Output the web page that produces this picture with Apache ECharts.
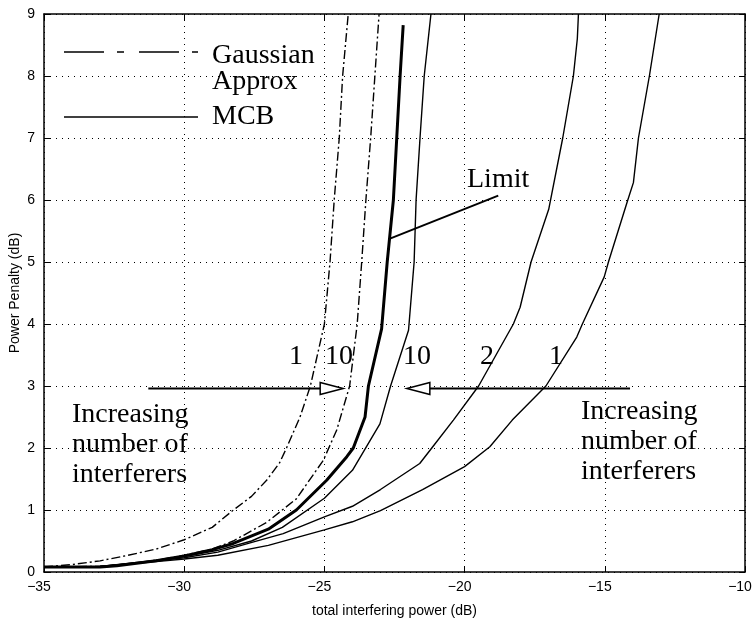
<!DOCTYPE html>
<html>
<head>
<meta charset="utf-8">
<script src="https://cdn.jsdelivr.net/npm/echarts@6/dist/echarts.min.js"></script>
<style>
  html, body { margin: 0; padding: 0; background: #fff; }
  #chart { width: 756px; height: 619px; }
</style>
</head>
<body>
<div id="chart"></div>
<script>
// Power penalty vs. total interfering power, [dB, dB] pairs
const gauss1 = [[-35,0.08],[-34,0.12],[-33,0.18],[-32,0.27],[-31,0.37],[-30,0.52],[-29,0.72],[-28.3,0.98],[-27.6,1.22],[-27.06,1.48],[-26.6,1.76],[-26.35,2.0],[-25.87,2.5],[-25.5,3.0],[-25.0,4.0],[-24.8,5.0],[-24.65,6.0],[-24.47,7.0],[-24.35,8.0],[-24.15,9.0]];
const gauss10 = [[-35,0.08],[-33,0.09],[-32,0.13],[-31,0.19],[-30,0.27],[-29,0.37],[-28.25,0.5],[-27.06,0.8],[-26,1.18],[-25.04,1.8],[-24.56,2.29],[-24.1,3.0],[-23.83,4.0],[-23.67,5.0],[-23.52,6.0],[-23.35,7.0],[-23.2,8.0],[-23.05,9.0]];
const limitCurve = [[-35,0.08],[-33,0.08],[-32.4,0.1],[-31,0.18],[-30,0.26],[-29,0.36],[-28.25,0.46],[-27,0.69],[-26,1.0],[-24.92,1.48],[-24.2,1.86],[-23.97,2.0],[-23.55,2.5],[-23.43,3.0],[-22.96,3.92],[-22.76,5.0],[-22.54,6.0],[-22.42,7.0],[-22.3,8.0],[-22.19,8.82]];
const mcb10 = [[-35,0.08],[-33,0.09],[-31.2,0.18],[-30,0.25],[-28.8,0.35],[-27.6,0.5],[-26.5,0.72],[-25,1.19],[-24,1.64],[-23.02,2.39],[-22.64,3.0],[-22.0,3.9],[-21.8,5.0],[-21.73,6.0],[-21.59,7.0],[-21.44,8.0],[-21.2,9.0]];
const mcb2 = [[-35,0.08],[-33,0.09],[-31.2,0.17],[-30,0.23],[-28.8,0.32],[-27.65,0.47],[-26.47,0.62],[-25,0.89],[-24,1.06],[-23,1.33],[-21.6,1.75],[-21.17,2.0],[-20.4,2.45],[-19.5,3.0],[-18.26,4.0],[-18.02,4.27],[-17.63,5.0],[-17.0,5.85],[-16.5,7.0],[-16.12,8.0],[-15.98,8.6],[-15.94,9.0]];
const mcb1 = [[-35,0.08],[-33,0.09],[-31.2,0.16],[-30,0.21],[-28.8,0.27],[-27,0.43],[-25,0.68],[-24,0.81],[-23,0.99],[-21.5,1.33],[-20,1.70],[-19.1,2.02],[-18.3,2.45],[-17.1,3.0],[-16,3.79],[-15.8,4.0],[-15.02,4.76],[-14.87,5.0],[-14.18,6.0],[-13.98,6.28],[-13.8,7.0],[-13.41,8.0],[-13.06,9.0]];

// Annotation arrows at the 3 dB level: [tail x, tip x, y]
const arrows = [[-31.28,-24.33,2.96],[-14.1,-22.06,2.96]];
// Leader line from the "Limit" label to the limit curve
const limitPointer = [[-22.64,5.38],[-18.8,6.07]];

const X_MIN = -35, X_MAX = -10, X_STEP = 5;
const Y_MIN = 0, Y_MAX = 9, Y_STEP = 1;

const SANS = '"Liberation Sans", Arial, Helvetica, sans-serif';
const SERIF = '"Liberation Serif", "Times New Roman", serif';
const INK = '#000';

const chart = echarts.init(document.getElementById('chart'), null, { renderer: 'canvas' });

const minusFmt = v => String(v).replace('-', '\u2212');
const gridLine = { show: true, lineStyle: { color: INK, width: 1, type: [1, 5] } };
const tickIn = { show: true, inside: true, length: 6, lineStyle: { color: INK, width: 1 } };
const boxLine = { show: true, onZero: false, lineStyle: { color: INK, width: 1.5 } };

function curve(name, data, width, dashed) {
  return {
    name, type: 'line', data, showSymbol: false, symbol: 'none', smooth: false,
    clip: true, animation: false, silent: true,
    lineStyle: { color: INK, width, type: dashed ? [9, 3, 2, 3] : 'solid' },
    z: 3
  };
}

function renderArrow(params, api) {
  const p0 = api.coord([api.value(0), api.value(2)]);
  const p1 = api.coord([api.value(1), api.value(2)]);
  const dir = Math.sign(p1[0] - p0[0]);
  const headLen = 23, headHalf = 6;
  const bx = p1[0] - dir * headLen;
  return {
    type: 'group',
    children: [
      { type: 'line', shape: { x1: p0[0], y1: p0[1], x2: bx, y2: p1[1] }, style: { stroke: INK, lineWidth: 2 } },
      { type: 'polygon', shape: { points: [[bx, p1[1] - headHalf], [p1[0], p1[1]], [bx, p1[1] + headHalf]] },
        style: { fill: '#fff', stroke: INK, lineWidth: 1.5 } }
    ]
  };
}

const serifText = (text, x, y, align) => ({
  type: 'text', x, y, silent: true, z: 10,
  style: { text, fill: INK, font: '28px ' + SERIF, textAlign: align || 'left', textVerticalAlign: 'middle', lineHeight: 30 }
});

chart.setOption({
  animation: false,
  backgroundColor: '#fff',
  grid: { left: 44, right: 11, top: 14, bottom: 47, containLabel: false, outerBoundsMode: 'none' },
  xAxis: [
    {
      type: 'value', min: X_MIN, max: X_MAX, interval: X_STEP, position: 'bottom',
      name: 'total interfering power (dB)', nameLocation: 'middle', nameGap: 32, nameMoveOverlap: false,
      nameTextStyle: { color: INK, fontFamily: SANS, fontSize: 14 },
      axisLine: boxLine, axisTick: tickIn, splitLine: gridLine,
      // digits sit centred on the tick, the minus sign hangs to the left
      axisLabel: { color: INK, fontFamily: SANS, fontSize: 14, margin: 8, padding: [0, 10, 0, 0], formatter: minusFmt }
    },
    {
      type: 'value', min: X_MIN, max: X_MAX, interval: X_STEP, position: 'top',
      axisLine: boxLine, axisTick: tickIn, splitLine: { show: false }, axisLabel: { show: false }
    }
  ],
  yAxis: [
    {
      type: 'value', min: Y_MIN, max: Y_MAX, interval: Y_STEP, position: 'left',
      name: 'Power Penalty (dB)', nameLocation: 'middle', nameGap: 22, nameRotate: 90, nameMoveOverlap: false,
      nameTextStyle: { color: INK, fontFamily: SANS, fontSize: 14 },
      axisLine: boxLine, axisTick: tickIn, splitLine: gridLine,
      axisLabel: { color: INK, fontFamily: SANS, fontSize: 14, margin: 9 }
    },
    {
      type: 'value', min: Y_MIN, max: Y_MAX, interval: Y_STEP, position: 'right',
      axisLine: boxLine, axisTick: tickIn, splitLine: { show: false }, axisLabel: { show: false }
    }
  ],
  series: [
    curve('Gaussian 1', gauss1, 1.4, true),
    curve('Gaussian 10', gauss10, 1.4, true),
    curve('Limit', limitCurve, 3, false),
    curve('MCB 10', mcb10, 1.4, false),
    curve('MCB 2', mcb2, 1.4, false),
    curve('MCB 1', mcb1, 1.4, false),
    {
      name: 'Limit pointer', type: 'line', data: limitPointer, symbol: 'none', silent: true,
      lineStyle: { color: INK, width: 2 }, z: 4
    },
    {
      name: 'Arrows', type: 'custom', data: arrows, renderItem: renderArrow, silent: true, z: 5,
      encode: { x: [0, 1], y: 2 }
    }
  ],
  graphic: [
    // legend
    { type: 'line', shape: { x1: 64, y1: 52, x2: 198, y2: 52 }, silent: true,
      style: { stroke: INK, lineWidth: 1.4, lineDash: [40, 13, 7, 15] } },
    { type: 'line', shape: { x1: 64, y1: 117, x2: 198, y2: 117 }, silent: true,
      style: { stroke: INK, lineWidth: 1.4 } },
    serifText('Gaussian', 212, 56),
    serifText('Approx', 212, 82),
    serifText('MCB', 212, 117),
    // curve annotations
    serifText('Limit', 467, 180),
    serifText('1', 296, 357, 'center'),
    serifText('10', 339, 357, 'center'),
    serifText('10', 417, 357, 'center'),
    serifText('2', 487, 357, 'center'),
    serifText('1', 556, 357, 'center'),
    serifText('Increasing\nnumber of\ninterferers', 72, 445),
    serifText('Increasing\nnumber of\ninterferers', 581, 442)
  ]
});
</script>
</body>
</html>
